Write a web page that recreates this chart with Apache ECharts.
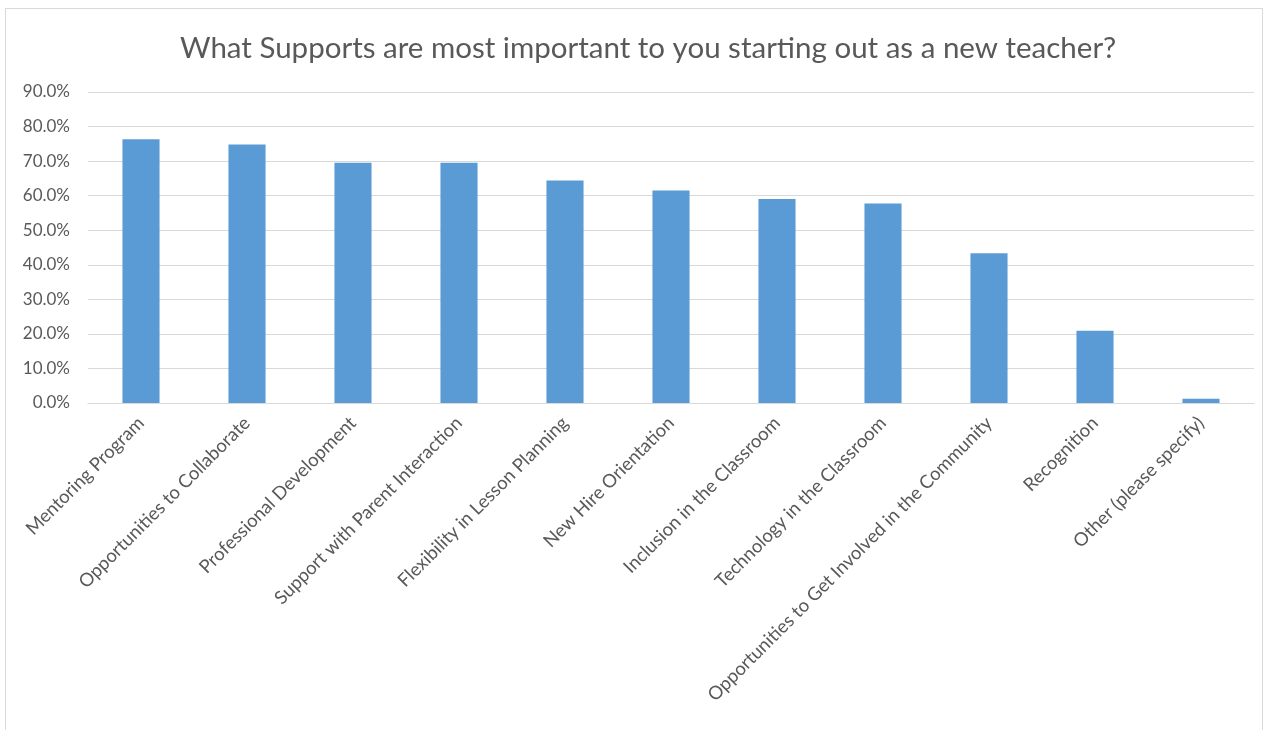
<!DOCTYPE html>
<html>
<head>
<meta charset="utf-8">
<script src="https://cdn.jsdelivr.net/npm/echarts@6/dist/echarts.min.js"></script>
<style>
html,body{margin:0;padding:0;background:#fff;}
#frame{position:absolute;left:5px;top:8px;width:1258px;height:730px;border:1px solid #d9d9d9;box-sizing:border-box;}
#c{position:absolute;left:0;top:0;width:1266px;height:730px;}
</style>
</head>
<body>
<div id="frame"></div>
<div id="c"></div>
<script>
const titleText = 'What Supports are most important to you starting out as a new teacher?';
const categories = ['Mentoring Program','Opportunities to Collaborate','Professional Development','Support with Parent Interaction','Flexibility in Lesson Planning','New Hire Orientation','Inclusion in the Classroom','Technology in the Classroom','Opportunities to Get Involved in the Community','Recognition','Other (please specify)'];
const values = [76.3, 74.8, 69.5, 69.5, 64.4, 61.5, 59.0, 57.7, 43.3, 20.9, 1.2];
const yMin = 0, yMax = 90, yStep = 10;

const chart = echarts.init(document.getElementById('c'), null, {renderer:'canvas'});
const font = 'Lato, "Open Sans", sans-serif';
chart.setOption({
  animation:false,
  title:{text:titleText,left:175,top:28,textStyle:{fontFamily:font,fontSize:29.5,fontWeight:'normal',color:'#595959'}},
  grid:{left:88,right:12,top:92,bottom:327,containLabel:false},
  xAxis:{type:'category',data:categories,
    axisLine:{lineStyle:{color:'#d9d9d9',width:1}},
    axisTick:{show:false},
    axisLabel:{rotate:45,interval:0,margin:17,color:'#595959',fontFamily:font,fontSize:18.5}},
  yAxis:{type:'value',min:yMin,max:yMax,interval:yStep,
    axisLine:{show:false},axisTick:{show:false},
    splitLine:{lineStyle:{color:'#d9d9d9',width:1}},
    axisLabel:{margin:18,color:'#595959',fontFamily:font,fontSize:17,formatter:v=>v.toFixed(1)+'%'}},
  series:[{type:'bar',data:values,barWidth:'35%',itemStyle:{color:'#5B9BD5'}}]
});
</script>
</body>
</html>
